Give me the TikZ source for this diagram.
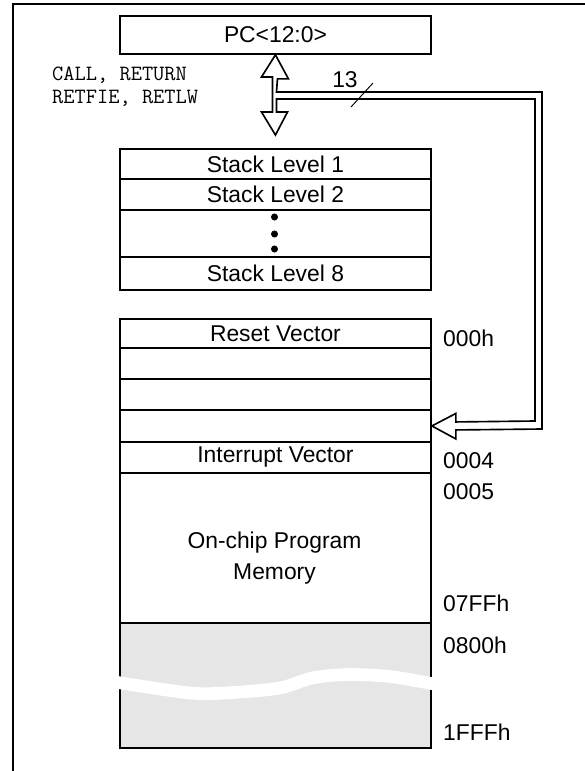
\documentclass[tikz,border=0pt]{standalone}
\usepackage{fontspec}
\setmainfont{Liberation Sans}
\usetikzlibrary{calc}
\definecolor{unimpl}{HTML}{E6E6E6}

\tikzset{
  cell/.style={draw, line width=1.6pt, minimum width=9.33cm, inner sep=0pt,
    anchor=north west, font=\fontsize{19.5}{23}\selectfont},
  addr/.style={anchor=west, inner sep=0pt, font=\fontsize{19.5}{23}\selectfont},
  dot/.style={circle, fill, inner sep=0pt, minimum size=6pt},
  bus/.style={draw, line width=1.4pt, fill=white, line join=miter},
}

\begin{document}
\begin{tikzpicture}[x=0.03cm, y=-0.03cm]
  \useasboundingbox (0,0) rectangle (585,771);
  % frame
  \draw[line width=2pt] (13,771) -- (13,4) -- (585,4);
  % program counter
  \node[cell, minimum height=38*0.03cm] (pc) at (119,15) {PC<12:0>};
  \node[anchor=west, inner sep=0pt, align=left,
        font=\ttfamily\fontsize{18.6}{19.6}\selectfont] (ops) at (52,87)
        {CALL, RETURN\\RETFIE, RETLW};
  % stack
  \node[cell, minimum height=30*0.03cm] (s1) at (119,148) {Stack Level 1};
  \node[cell, minimum height=31*0.03cm] (s2) at (119,178) {Stack Level 2};
  \node[cell, minimum height=47*0.03cm] (sd) at (119,209) {};
  \node[cell, minimum height=33*0.03cm] (s8) at (119,256) {Stack Level 8};
  \node[dot] (d1) at (274.5,217) {};
  \node[dot] (d2) at (274.5,234) {};
  \node[dot] (d3) at (274.5,249) {};
  % program memory
  \node[cell, minimum height=29*0.03cm] (m1) at (119,318) {Reset Vector};
  \node[cell, minimum height=31*0.03cm] (m2) at (119,347) {};
  \node[cell, minimum height=31*0.03cm] (m3) at (119,378) {};
  \node[cell, minimum height=32*0.03cm] (m4) at (119,409) {};
  \node[cell, minimum height=31*0.03cm] (m5) at (119,441) {Interrupt Vector};
  \node[cell, minimum height=150*0.03cm] (mm) at (119,472) {};
  \node[align=center, inner sep=0pt,
        font=\fontsize{19.5}{26.5}\selectfont] (memtext) at (274.5,558)
        {On-chip Program\\Memory};
  \node[cell, fill=unimpl, minimum height=125*0.03cm] (mg) at (119,622) {};
  \draw[white, line width=0.38cm] plot[smooth] coordinates
    {(115,682) (190,693) (233,692.5) (280,688) (312,678) (347,674.5) (390,676.5) (434,684)};
  % addresses
  \node[addr] (a0) at (443,338) {000h};
  \node[addr] (a4) at (443,461) {0004};
  \node[addr] (a5) at (443,492) {0005};
  \node[addr] (a7) at (443,603) {07FFh};
  \node[addr] (a8) at (443,645) {0800h};
  \node[addr] (a1) at (443,732) {1FFFh};
  % push/pop arrow and 13-bit bus
  \coordinate (busTR) at (542,92);
  \coordinate (busIR) at (535,99);
  \draw[bus] (pc.south) -- ++(13,24) -- ++(-11,0) -- (276.5,92) -- (busTR)
    -- (busTR |- 0,429) -- ($(m4.east)+(24,4)$) -- ++(0,9) -- (m4.east)
    -- ++(24,-12.5) -- ++(0,8.5) -- (busIR |- 0,421) -- (busIR) -- (276.5,99)
    -- (276.5,112) -- (287.5,112) -- ($(s1.north)+(0,-13)$) -- (261.5,112)
    -- (272.5,112) -- (272.5,77) -- (261.5,77) -- cycle;
  \node[font=\fontsize{19.5}{23}\selectfont, inner sep=0pt] (w) at (345,80) {13};
  \coordinate (slashA) at (351,107);
  \coordinate (slashB) at (373,83);
  \draw[line width=0.8pt] (slashA) -- (slashB);
\end{tikzpicture}
\end{document}
